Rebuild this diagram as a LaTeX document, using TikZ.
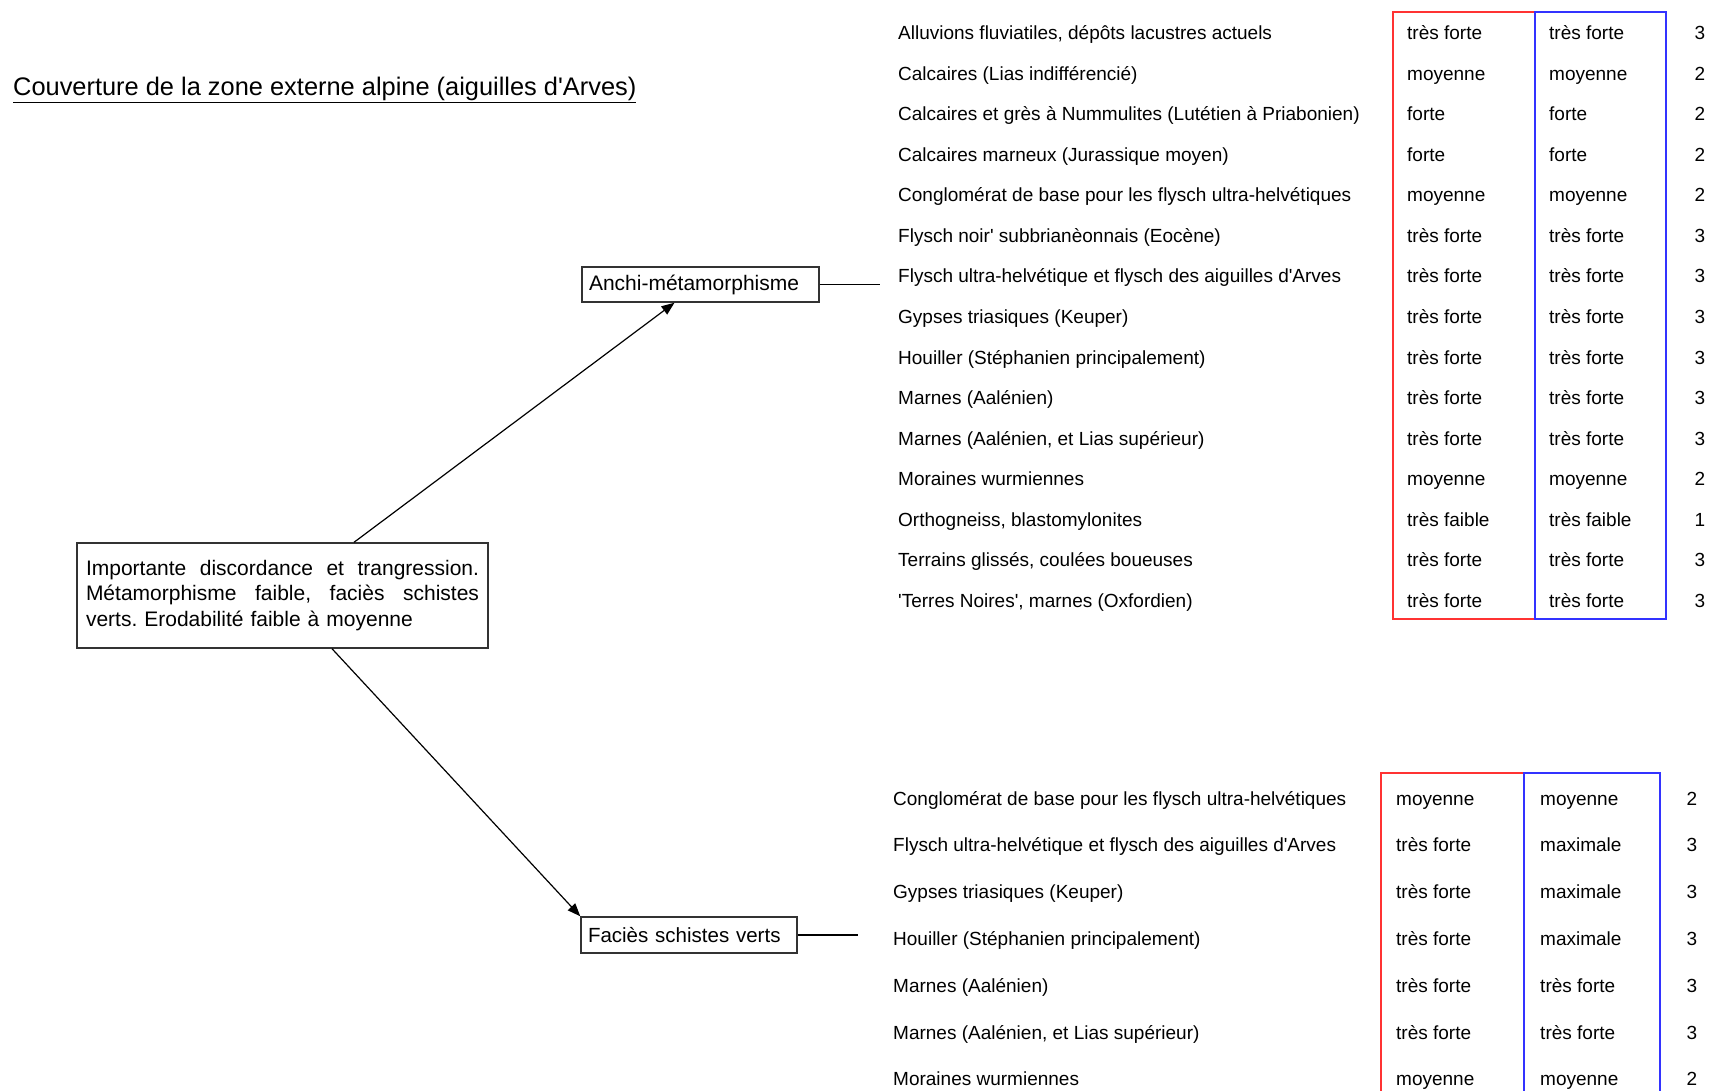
\documentclass[tikz,border=0pt]{standalone}
\usepackage{fontspec}
\setmainfont{Liberation Sans}[Ligatures=TeXOff]
\usetikzlibrary{arrows.meta}
\definecolor{boxgray}{HTML}{333333}
\definecolor{colred}{HTML}{FF3333}
\definecolor{colblue}{HTML}{3333FF}
\frenchspacing
\newcommand{\fullline}[1]{\leavevmode\hbox to 393pt{#1}}
\tikzset{
  txt/.style={inner sep=0pt, anchor=base west, font=\fontsize{19}{22}\selectfont},
  num/.style={inner sep=0pt, anchor=base, font=\fontsize{19}{22}\selectfont},
  labelbox/.style={draw=boxgray, line width=1.4pt, inner xsep=7pt, inner ysep=0pt,
    align=left},
  link/.style={draw=black, line width=1.2pt},
  arrowlink/.style={link, -{Triangle[length=13pt,width=10pt]}},
  frame/.style={line width=2pt},
}
\begin{document}
\begin{tikzpicture}[x=1pt,y=-1pt]
\useasboundingbox (0,0) rectangle (1719,1091);

% title
\node[inner sep=0pt, anchor=base west, font=\fontsize{25.4}{30}\selectfont]
  (title) at (13,96) {\underline{Couverture de la zone externe alpine (aiguilles d'Arves)}};

% central description box (first two lines justified)
\node[draw=boxgray, line width=1.4pt, text width=393pt, align=left, inner xsep=9pt,
  minimum height=105pt, font=\fontsize{21}{25.5}\selectfont]
  (discord) at (282.5,595.5)
  {\fullline{Importante\hfill discordance\hfill et\hfill trangression.}\\
   \fullline{Métamorphisme\hfill faible,\hfill faciès\hfill schistes}\\
   verts. Erodabilité faible à moyenne};

% the two branches
\node[labelbox, text width=223pt, minimum height=35pt, font=\fontsize{21}{24}\selectfont]
  (anchi) at (700.5,284.5) {Anchi-métamorphisme};
\node[labelbox, text width=202pt, minimum height=36pt, font=\fontsize{20.5}{24}\selectfont]
  (facies) at (689,935) {Faciès schistes verts};

\draw[arrowlink] ([xshift=71.5pt]discord.north) -- ([xshift=-26pt]anchi.south);
\draw[arrowlink] ([xshift=49.5pt]discord.south) -- (facies.north west);

\coordinate (anchiend) at (880,284.5);
\coordinate (faciesend) at (858,935);
\draw[link] (anchi.east) -- (anchiend);
\draw[link] (facies.east) -- (faciesend);

% upper table
\draw[frame, colred] (1393,12) rectangle (1535,619);
\draw[frame, colblue] (1535,12) rectangle (1666,619);
\foreach [count=\i] \name/\a/\b/\n in {
  {Alluvions fluviatiles, dépôts lacustres actuels}/très forte/très forte/3,
  {Calcaires (Lias indifférencié)}/moyenne/moyenne/2,
  {Calcaires et grès à Nummulites (Lutétien à Priabonien)}/forte/forte/2,
  {Calcaires marneux (Jurassique moyen)}/forte/forte/2,
  {Conglomérat de base pour les flysch ultra-helvétiques}/moyenne/moyenne/2,
  {Flysch noir' subbrianèonnais (Eocène)}/très forte/très forte/3,
  {Flysch ultra-helvétique et flysch des aiguilles d'Arves}/très forte/très forte/3,
  {Gypses triasiques (Keuper)}/très forte/très forte/3,
  {Houiller (Stéphanien principalement)}/très forte/très forte/3,
  {Marnes (Aalénien)}/très forte/très forte/3,
  {Marnes (Aalénien, et Lias supérieur)}/très forte/très forte/3,
  {Moraines wurmiennes}/moyenne/moyenne/2,
  {Orthogneiss, blastomylonites}/très faible/très faible/1,
  {Terrains glissés, coulées boueuses}/très forte/très forte/3,
  {'Terres Noires', marnes (Oxfordien)}/très forte/très forte/3}
{
  \pgfmathsetmacro{\yy}{40+40.5*(\i-1)}
  \node[txt] (ua\i) at (898,\yy) {\name};
  \node[txt] (ub\i) at (1407,\yy) {\a};
  \node[txt] (uc\i) at (1549,\yy) {\b};
  \node[num] (ud\i) at (1700,\yy) {\n};
}

% lower table
\draw[frame, colred] (1381,1095) -- (1381,773) -- (1524,773);
\draw[frame, colblue] (1524,1095) -- (1524,773) -- (1660,773) -- (1660,1095);
\foreach [count=\i] \name/\a/\b/\n in {
  {Conglomérat de base pour les flysch ultra-helvétiques}/moyenne/moyenne/2,
  {Flysch ultra-helvétique et flysch des aiguilles d'Arves}/très forte/maximale/3,
  {Gypses triasiques (Keuper)}/très forte/maximale/3,
  {Houiller (Stéphanien principalement)}/très forte/maximale/3,
  {Marnes (Aalénien)}/très forte/très forte/3,
  {Marnes (Aalénien, et Lias supérieur)}/très forte/très forte/3,
  {Moraines wurmiennes}/moyenne/moyenne/2}
{
  \pgfmathsetmacro{\yy}{805+46.8*(\i-1)}
  \node[txt] (la\i) at (893,\yy) {\name};
  \node[txt] (lb\i) at (1396,\yy) {\a};
  \node[txt] (lc\i) at (1540,\yy) {\b};
  \node[num] (ld\i) at (1692,\yy) {\n};
}
\end{tikzpicture}
\end{document}
